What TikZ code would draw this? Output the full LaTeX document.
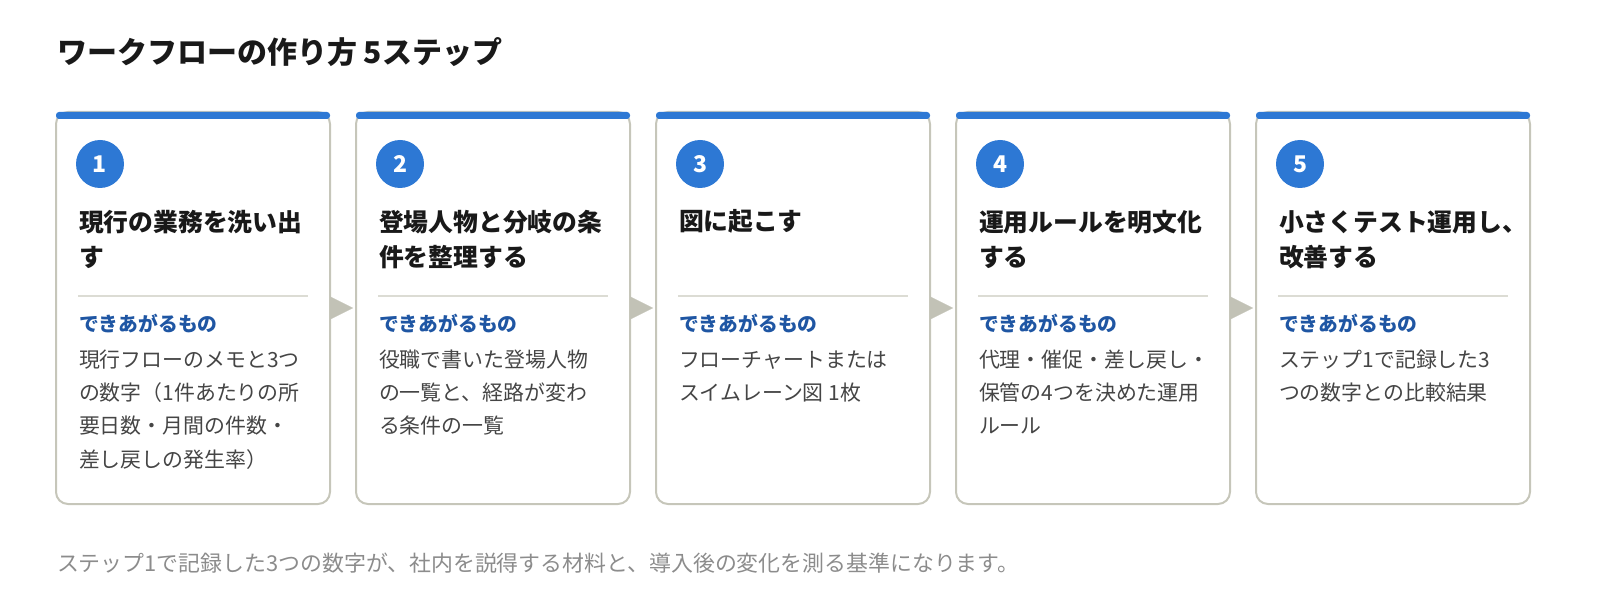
\documentclass[tikz,border=0pt]{standalone}
\usepackage{fontspec}
\setmainfont{Noto Sans CJK JP}
\usetikzlibrary{positioning, arrows.meta}
\definecolor{stepblue}{HTML}{2D78D4}
\definecolor{labelblue}{HTML}{1F56A3}
\definecolor{cardline}{HTML}{C6C6BA}
\definecolor{sepline}{HTML}{DCDCD4}
\definecolor{tipgray}{HTML}{C2C2B6}
\definecolor{bodygray}{HTML}{454545}
\definecolor{footgray}{HTML}{8C8C8C}
\tikzset{
  x=1pt, y=-1pt,
  every node/.style={inner sep=0pt, outer sep=0pt},
  card/.style={draw=cardline, line width=2pt, rounded corners=12pt, minimum width=274pt, minimum height=392pt},
  topbar/.style={fill=stepblue, rounded corners=3pt, minimum width=274pt, minimum height=7pt, anchor=north},
  num/.style={circle, fill=stepblue, minimum size=48pt, text=white, font=\fontsize{23}{23}\selectfont\bfseries},
  steptitle/.style={anchor=base west, align=left, text=black!90, font=\fontsize{24.8}{35}\selectfont\bfseries},
  outlabel/.style={anchor=base west, text=labelblue, font=\fontsize{19.8}{20}\selectfont\bfseries},
  outtext/.style={anchor=base west, align=left, text=bodygray, font=\fontsize{20.9}{33.3}\selectfont},
  sep/.style={draw=sepline, line width=1.5pt},
  flow/.style={-{Triangle[length=23pt, width=23pt]}, draw=tipgray, fill=tipgray, line width=0.1pt, shorten >=3pt},
}

\begin{document}
\begin{tikzpicture}
  \useasboundingbox (0,0) rectangle (1600,612);
  % heading
  \node[anchor=base west, text=black!90, font=\fontsize{30}{30}\selectfont\bfseries] (title) at (57,64) {ワークフローの作り方 5ステップ};

  % cards
  \node[card] (c1) at (193,308) {};
  \node[card] (c2) at (493,308) {};
  \node[card] (c3) at (793,308) {};
  \node[card] (c4) at (1093,308) {};
  \node[card] (c5) at (1393,308) {};

  \node[topbar] (b1) at (c1.north) {};
  \node[topbar] (b2) at (c2.north) {};
  \node[topbar] (b3) at (c3.north) {};
  \node[topbar] (b4) at (c4.north) {};
  \node[topbar] (b5) at (c5.north) {};

  % step numbers
  \node[num] (n1) at (c1.north west) [xshift=44pt, yshift=-52pt] {1};
  \node[num] (n2) at (c2.north west) [xshift=44pt, yshift=-52pt] {2};
  \node[num] (n3) at (c3.north west) [xshift=44pt, yshift=-52pt] {3};
  \node[num] (n4) at (c4.north west) [xshift=44pt, yshift=-52pt] {4};
  \node[num] (n5) at (c5.north west) [xshift=44pt, yshift=-52pt] {5};

  % step titles (base = last line)
  \node[steptitle] (t1) at (c1.north west) [xshift=23pt, yshift=-154pt] {現行の業務を洗い出\\す};
  \node[steptitle] (t2) at (c2.north west) [xshift=23pt, yshift=-154pt] {登場人物と分岐の条\\件を整理する};
  \node[steptitle] (t3) at (c3.north west) [xshift=23pt, yshift=-119pt] {図に起こす};
  \node[steptitle] (t4) at (c4.north west) [xshift=23pt, yshift=-154pt] {運用ルールを明文化\\する};
  \node[steptitle] (t5) at (c5.north west) [xshift=23pt, yshift=-154pt] {小さくテスト運用し、\\改善する};

  % separators
  \draw[sep] ([xshift=22pt, yshift=-184pt]c1.north west) -- ([xshift=-22pt, yshift=-184pt]c1.north east);
  \draw[sep] ([xshift=22pt, yshift=-184pt]c2.north west) -- ([xshift=-22pt, yshift=-184pt]c2.north east);
  \draw[sep] ([xshift=22pt, yshift=-184pt]c3.north west) -- ([xshift=-22pt, yshift=-184pt]c3.north east);
  \draw[sep] ([xshift=22pt, yshift=-184pt]c4.north west) -- ([xshift=-22pt, yshift=-184pt]c4.north east);
  \draw[sep] ([xshift=22pt, yshift=-184pt]c5.north west) -- ([xshift=-22pt, yshift=-184pt]c5.north east);

  % outputs
  \node[outlabel] (l1) at (c1.north west) [xshift=23pt, yshift=-219pt] {できあがるもの};
  \node[outlabel] (l2) at (c2.north west) [xshift=23pt, yshift=-219pt] {できあがるもの};
  \node[outlabel] (l3) at (c3.north west) [xshift=23pt, yshift=-219pt] {できあがるもの};
  \node[outlabel] (l4) at (c4.north west) [xshift=23pt, yshift=-219pt] {できあがるもの};
  \node[outlabel] (l5) at (c5.north west) [xshift=23pt, yshift=-219pt] {できあがるもの};

  \node[outtext] (o1) at (c1.north west) [xshift=23pt, yshift=-355pt] {現行フローのメモと3つ\\の数字（1件あたりの所\\要日数・月間の件数・\\差し戻しの発生率）};
  \node[outtext] (o2) at (c2.north west) [xshift=23pt, yshift=-321.7pt] {役職で書いた登場人物\\の一覧と、経路が変わ\\る条件の一覧};
  \node[outtext] (o3) at (c3.north west) [xshift=23pt, yshift=-288.4pt] {フローチャートまたは\\スイムレーン図 1枚};
  \node[outtext] (o4) at (c4.north west) [xshift=23pt, yshift=-321.7pt] {代理・催促・差し戻し・\\保管の4つを決めた運用\\ルール};
  \node[outtext] (o5) at (c5.north west) [xshift=23pt, yshift=-288.4pt] {ステップ1で記録した3\\つの数字との比較結果};

  % flow
  \draw[flow] (c1.east) -- (c2.west);
  \draw[flow] (c2.east) -- (c3.west);
  \draw[flow] (c3.east) -- (c4.west);
  \draw[flow] (c4.east) -- (c5.west);

  % note
  \node[anchor=base west, text=footgray, font=\fontsize{21.9}{22}\selectfont] (note) at (57,571) {ステップ1で記録した3つの数字が、社内を説得する材料と、導入後の変化を測る基準になります。};
\end{tikzpicture}
\end{document}
